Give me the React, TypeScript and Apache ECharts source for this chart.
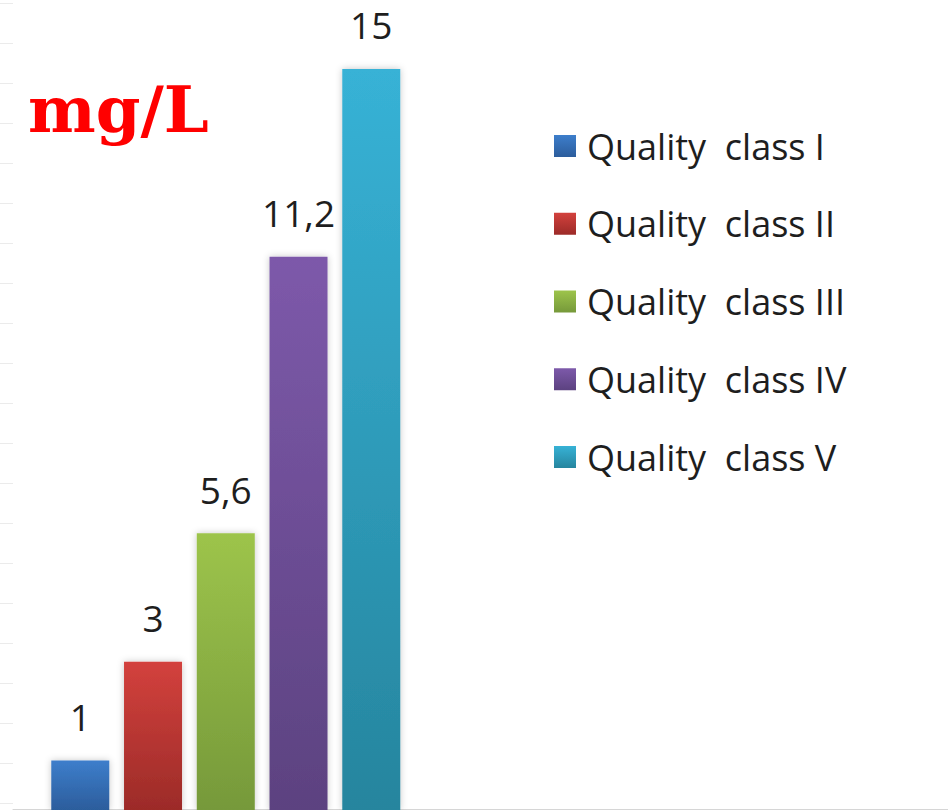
import React, { useEffect, useRef } from "react";
import * as echarts from "echarts";

const classNames = [
  "Quality  class I",
  "Quality  class II",
  "Quality  class III",
  "Quality  class IV",
  "Quality  class V",
];
const concentrations = [1, 3, 5.6, 11.2, 15];
const topColors = ["#3d7ecb", "#d3413d", "#9dc44b", "#7d59aa", "#37b2d6"];
const bottomColors = ["#2c5d9c", "#9c2b28", "#76993a", "#5c4280", "#26859e"];
const unitLabel = "mg/L";
const leftTickCount = 20;

export default function App() {
  const ref = useRef<HTMLDivElement>(null);
  useEffect(() => {
    if (!ref.current) return;
    const chart = echarts.init(ref.current, null, { renderer: "svg" });
    const series: any[] = classNames.map((name, i) => ({
      name,
      type: "bar",
      xAxisIndex: 2,
      yAxisIndex: 2,
      barWidth: 58,
      barGap: "-100%",
      data: classNames.map((_, j) => (j === i ? concentrations[i] : "-")),
      itemStyle: {
        color: new echarts.graphic.LinearGradient(0, 0, 0, 1, [
          { offset: 0, color: topColors[i] },
          { offset: 1, color: bottomColors[i] },
        ]),
        shadowBlur: 7,
        shadowColor: "rgba(0,0,0,0.22)",
      },
      label: {
        show: true,
        position: "top",
        distance: 29,
        color: "#1e1e1e",
        fontFamily: "Open Sans",
        fontSize: 37,
        lineHeight: 30,
        formatter: (p: any) => String(p.value).replace(".", ","),
      },
    }));
    chart.setOption({
      animation: false,
      backgroundColor: "#ffffff",
      title: {
        text: unitLabel,
        left: 28,
        top: 77,
        padding: 0,
        textStyle: {
          color: "#ff0000",
          fontFamily: "DejaVu Serif",
          fontWeight: "bold",
          fontSize: 64,
        },
      },
      legend: {
        orient: "vertical",
        left: 554,
        top: 125,
        padding: 0,
        itemWidth: 22,
        itemHeight: 22,
        itemGap: 35.75,
        icon: "rect",
        itemStyle: { shadowBlur: 0 },
        textStyle: {
          fontFamily: "Open Sans",
          fontSize: 36,
          color: "#1e1e1e",
          lineHeight: 42,
          padding: [0, 0, 0, 6],
        },
        data: classNames,
      },
      grid: [
        { left: 0, width: 13, top: 3, height: 800 },
        { left: 13, right: 0, top: 0, bottom: 1 },
        { left: 43.9, width: 363.75, top: 19.5, height: 792.3 },
      ],
      xAxis: [
        { gridIndex: 0, type: "value", show: false },
        {
          gridIndex: 1,
          type: "value",
          axisLine: { show: true, lineStyle: { color: "#d6d6d6", width: 1 } },
          axisTick: { show: false },
          axisLabel: { show: false },
          splitLine: { show: false },
        },
        {
          gridIndex: 2,
          type: "category",
          data: classNames,
          axisLine: { show: false },
          axisTick: { show: false },
          axisLabel: { show: false },
        },
      ],
      yAxis: [
        {
          gridIndex: 0,
          type: "value",
          min: 0,
          max: leftTickCount,
          interval: 1,
          axisLine: { show: false },
          axisTick: { show: false },
          axisLabel: { show: false },
          splitLine: { show: true, lineStyle: { color: "#ebebeb", width: 1 } },
        },
        { gridIndex: 1, type: "value", show: false, splitLine: { show: false } },
        {
          gridIndex: 2,
          type: "value",
          min: 0,
          max: 16,
          show: false,
          splitLine: { show: false },
        },
      ],
      series,
    });
    return () => chart.dispose();
  }, []);
  return (
    <div
      ref={ref}
      style={{ position: "fixed", left: 0, top: 0, width: 948, height: 810 }}
    />
  );
}
